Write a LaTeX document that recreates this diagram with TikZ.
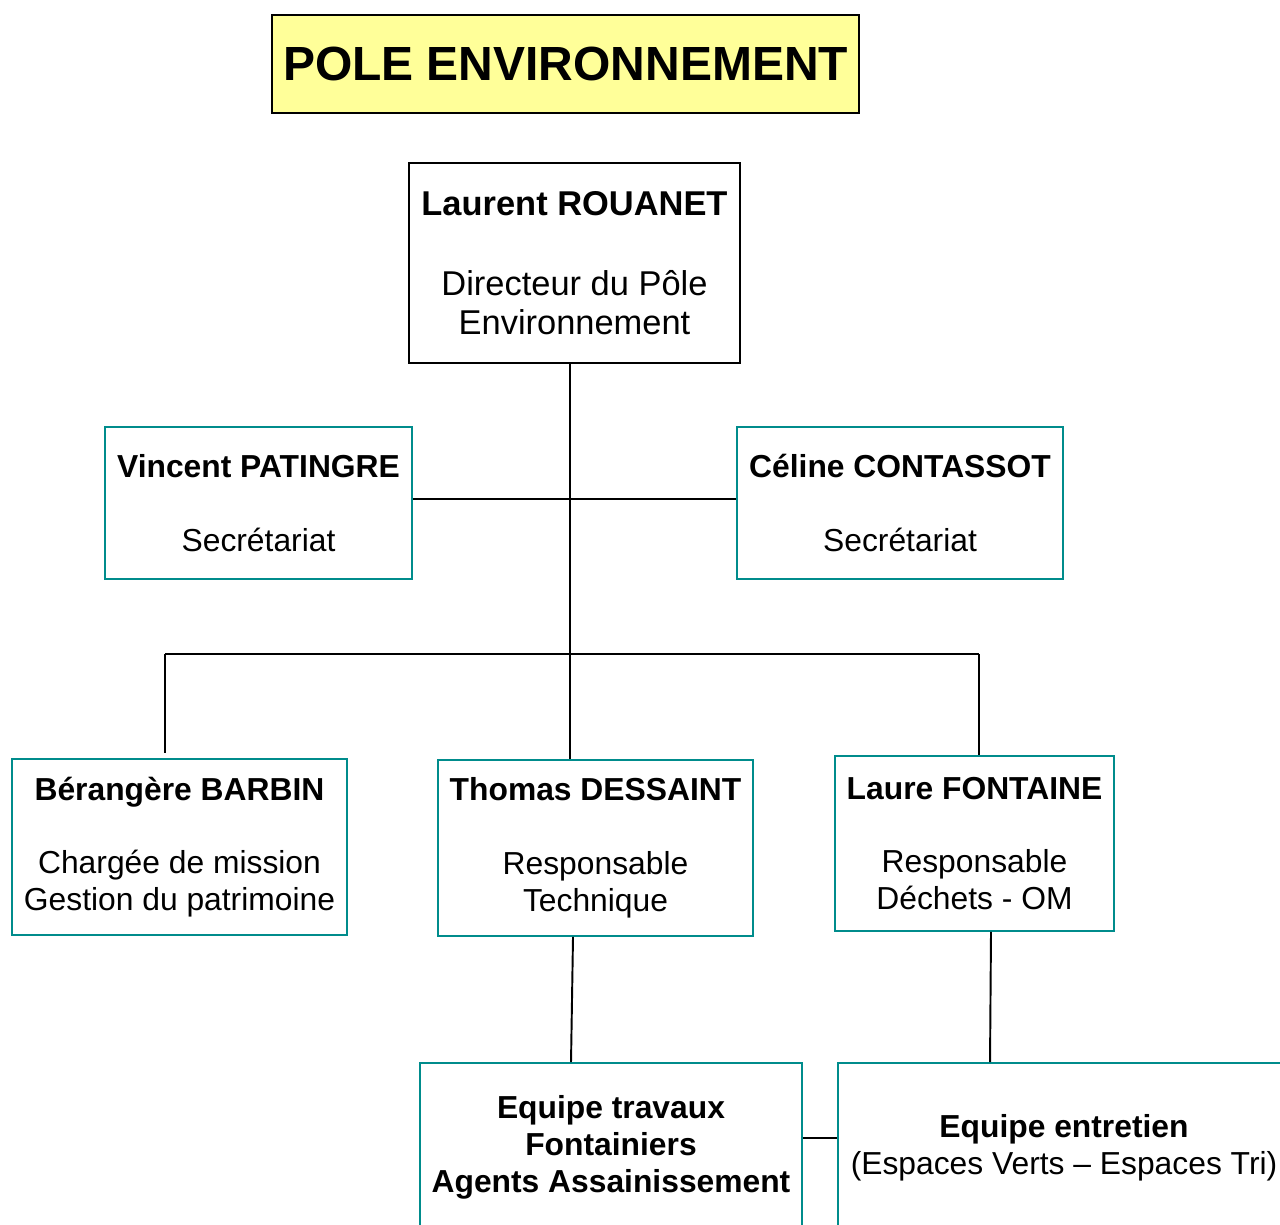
\documentclass[tikz,border=0pt]{standalone}
\usepackage{fontspec}
\setmainfont{Liberation Sans}
\usetikzlibrary {positioning}
\definecolor{boxteal}{RGB}{0,140,140}
\definecolor{titleyellow}{RGB}{255,255,153}

\begin{document}
\begin{tikzpicture}[
        x=0.02cm, y=-0.02cm, line width=1.1pt,
        every node/.style={inner sep=0pt, align=center},
        title box/.style={draw=black, fill=titleyellow, font=\fontsize{27.3}{32}\selectfont\bfseries},
        head box/.style={draw=black, font=\fontsize{19.6}{22.1}\selectfont},
        staff box/.style={draw=boxteal, font=\fontsize{18.1}{21}\selectfont},
        ]
        \useasboundingbox (0,0) rectangle (1280,1224);
        \fill[white] (0,0) rectangle (1280,1224);
        \clip (0,0) rectangle (1280,1224);

        \node[title box, minimum width=11.74cm, minimum height=1.96cm] (t_0) at (565.5,64)   {POLE ENVIRONNEMENT};
        \node[head box,  minimum width=6.62cm,  minimum height=4.00cm] (p_0) at (574.5,263)  {{\fontsize{19.6}{22.1}\selectfont\bfseries Laurent ROUANET}\\[23.3pt]Directeur du Pôle\\Environnement};
        \node[staff box, minimum width=6.14cm,  minimum height=3.04cm] (s_1) at (258.5,503)  {\textbf{Vincent PATINGRE}\\[21pt]Secrétariat};
        \node[staff box, minimum width=6.52cm,  minimum height=3.04cm] (s_2) at (900,503)    {\textbf{Céline CONTASSOT}\\[21pt]Secrétariat};
        \node[staff box, minimum width=6.70cm,  minimum height=3.52cm] (r_1) at (179.5,847)  {\textbf{Bérangère BARBIN}\\[21pt]Chargée de mission\\Gestion du patrimoine};
        \node[staff box, minimum width=6.30cm,  minimum height=3.52cm] (r_2) at (595.5,848)  {\textbf{Thomas DESSAINT}\\[21pt]Responsable\\Technique};
        \node[staff box, minimum width=5.58cm,  minimum height=3.50cm] (r_3) at (974.5,843.5) {\textbf{Laure FONTAINE}\\[21pt]Responsable\\Déchets - OM};
        \node[staff box, minimum width=7.64cm,  minimum height=3.36cm] (e_1) at (611,1147)   {\textbf{Equipe travaux}\\\textbf{Fontainiers}\\\textbf{Agents Assainissement}};
        \node[staff box, minimum width=9.04cm,  minimum height=3.40cm] (e_2) at (1064,1148)  {\textbf{Equipe entretien}\\(Espaces Verts – Espaces Tri)};

        \coordinate (bus) at (570,654);
        \coordinate (bus_l) at (165,654);
        \coordinate (bus_r) at (979,654);

        \draw (p_0.south -| bus) -- (bus) -- (bus |- r_2.north);
        \draw ([yshift=0.08cm]s_1.east) -- ([yshift=0.08cm]s_2.west);
        \draw (bus_l) -- (bus_r);
        \draw (bus_l) -- ([yshift=0.1cm]bus_l |- r_1.north);
        \draw (bus_r) -- (bus_r |- r_3.north);
        \draw ([xshift=-0.45cm]r_2.south) -- ([xshift=-0.8cm]e_1.north);
        \draw ([xshift=0.33cm]r_3.south) -- ([xshift=-1.48cm]e_2.north);
        \draw ([yshift=0.18cm]e_1.east) -- ([yshift=0.18cm]e_1.east -| e_2.west);
      \end{tikzpicture}
\end{document}
